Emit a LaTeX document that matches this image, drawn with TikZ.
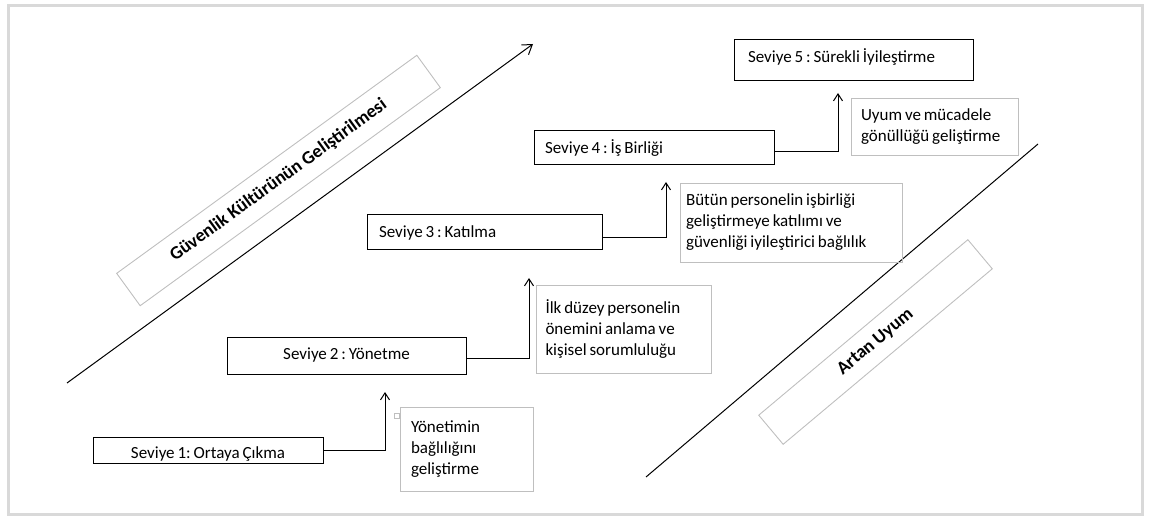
\documentclass[tikz,border=0pt]{standalone}
\usepackage{fontspec}
\setmainfont{Carlito}
\usetikzlibrary{arrows.meta,positioning}
\definecolor{notegray}{RGB}{191,191,191}
\definecolor{framegray}{RGB}{217,217,217}
\newcommand\lvfont{\fontsize{17pt}{21pt}\selectfont\frenchspacing}
\newcommand\bandfont{\fontsize{18.5pt}{22pt}\selectfont\bfseries}
\newcommand\tightspace{\spaceskip=0.17em plus 0.05em minus 0.02em\relax}

\begin{document}
\begin{tikzpicture}[x=1pt, y=-1pt,
  levelbox/.style={draw=black, line width=1pt, inner sep=0pt, font=\lvfont, execute at begin node=\tightspace},
  notebox/.style={draw=notegray, line width=0.9pt, align=flush left, inner ysep=4pt, font=\lvfont, execute at begin node=\tightspace},
  bandbox/.style={draw=notegray, line width=0.9pt, inner sep=0pt, font=\bandfont},
  link/.style={-{Straight Barb[length=7pt,width=9pt]}, line width=1pt},
  growth/.style={line width=1pt}]
\useasboundingbox (0,0) rectangle (1158,518);
% Outer frame
\draw[framegray, line width=3pt] (8.5,5.5) rectangle (1142.5,514.5);

% Diagonal bands and lines
\coordinate (up0) at (67,383);
\coordinate (up1) at (533,44);
\draw[growth, -{Straight Barb[length=9pt,width=12pt]}] (up0) -- (up1);
\node[bandbox, rotate=36, minimum width=371pt, minimum height=40pt] (band1) at (278.5,180.5) {Güvenlik Kültürünün Geliştirilmesi};

\coordinate (cp0) at (646,477);
\coordinate (cp1) at (1038,144);
\draw[growth] (cp0) -- (cp1);
\node[bandbox, rotate=40, minimum width=273pt, minimum height=38pt] (band2) at (875.5,342) {Artan Uyum};

% Levels
\node[levelbox, minimum width=230pt, minimum height=26pt, text height=20pt, text depth=4pt] (s1) at (208,450) {Seviye 1: Ortaya Çıkma};
\node[levelbox, minimum width=239pt, minimum height=37pt] (s2) at (346.5,355.5) {Seviye 2 : Yönetme};
\node[levelbox, inner xsep=12pt, text width=211pt, minimum height=35pt, align=flush left] (s3) at (484.5,232.5) {Seviye 3 : Katılma};
\node[levelbox, inner xsep=11pt, text width=218pt, minimum height=34pt, align=flush left] (s4) at (654,148) {Seviye 4 : İş Birliği};
\node[levelbox, inner xsep=14pt, text width=211pt, minimum height=41pt, text depth=10pt, align=flush left] (s5) at (853.5,60.5) {Seviye 5 : Sürekli İyileştirme};

% Notes
\node[notebox, inner xsep=11pt, text width=111pt, minimum height=84pt] (n1) at (466.5,449) {Yönetimin\\bağlılığını\\geliştirme};
\node[draw=notegray, line width=0.6pt, minimum size=5pt, inner sep=0pt] (hd) at (397,415.5) {};
\node[notebox, inner xsep=9pt, text width=156.5pt, minimum height=88pt] (n2) at (623.75,329) {İlk düzey personelin\\önemini anlama ve\\kişisel sorumluluğu};
\node[notebox, inner xsep=6pt, text width=210pt, minimum height=79pt] (n3) at (791,222.5) {Bütün personelin işbirliği\\geliştirmeye katılımı ve\\güvenliği iyileştirici bağlılık};
\node[notebox, inner xsep=10pt, text width=147pt, minimum height=57pt] (n4) at (934.5,126.5) {Uyum ve mücadele\\gönüllüğü geliştirme};

% Steps
\coordinate (t2) at (385,392);
\coordinate (t3) at (529,278);
\coordinate (t4) at (666,182);
\coordinate (t5) at (838,93);
\draw[link] (s1.east) -| (t2);
\draw[link] ([yshift=-2.5pt]s2.east) -| (t3);
\draw[link] ([yshift=-5.5pt]s3.east) -| (t4);
\draw[link] ([yshift=-4pt]s4.east) -| (t5);
\end{tikzpicture}
\end{document}
